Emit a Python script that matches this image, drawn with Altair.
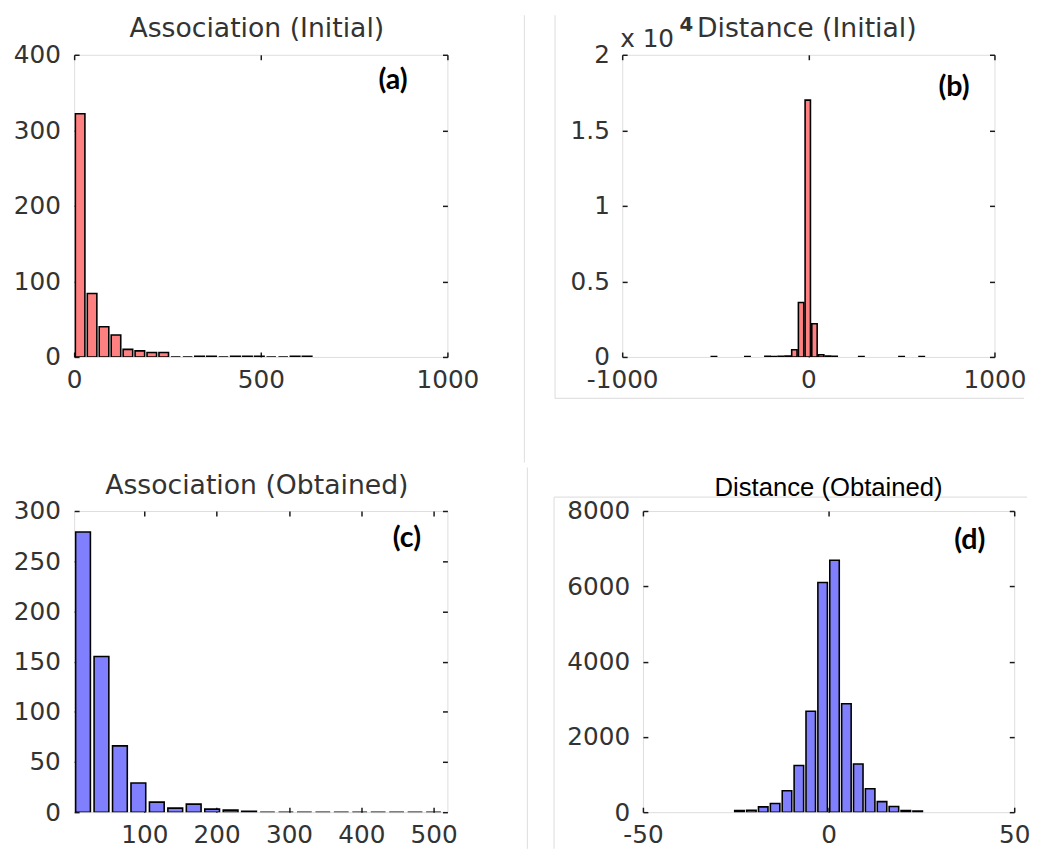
import altair as alt
import pandas as pd

# ---------------- data ----------------
# (a) Association (Initial): bin centres and counts
a_centers = [16, 48, 80, 112, 144, 176, 208, 240, 272, 304, 336, 368, 400, 432, 464, 496, 528, 560, 592, 624]
a_counts = [322, 84, 40, 29, 10, 8, 6, 6, 0, 0, 1, 1, 0, 1, 1, 1, 0, 0, 1, 1]
a_binw = 32

# (b) Distance (Initial)
b_centers = [-507, -327, -219, -183, -147, -111, -75, -39, -3, 33, 69, 105, 141, 285, 501, 609]
b_counts = [20, 20, 40, 30, 40, 60, 480, 3600, 17000, 2200, 150, 60, 40, 20, 20, 20]
b_binw = 36

# (c) Association (Obtained)
c_centers = [15.25, 40.75, 66.25, 91.75, 117.25, 142.75, 168.25, 193.75, 219.25, 244.75,
             270.25, 295.75, 321.25, 346.75, 372.25, 397.75, 423.25, 448.75, 474.25, 499.75]
c_counts = [279, 155, 66, 29, 10, 4, 8, 3, 2, 1, 0, 0, 0, 0, 0, 0, 0, 0, 0, 0]
c_binw = 25.5

# (d) Distance (Obtained)
d_centers = [-24.0, -20.8, -17.6, -14.4, -11.2, -8.0, -4.8, -1.6, 1.6, 4.8, 8.0, 11.2, 14.4, 17.6, 20.8, 24.0]
d_counts = [40, 50, 140, 230, 570, 1240, 2680, 6100, 6690, 2880, 1280, 620, 280, 150, 40, 30]
d_binw = 3.2

# axis ticks
a_xticks = [0, 500, 1000]
a_yticks = [0, 100, 200, 300, 400]
b_xticks = [-1000, 0, 1000]
b_yticks = [0, 5000, 10000, 15000, 20000]
c_xticks = [100, 200, 300, 400, 500]
c_yticks = [0, 50, 100, 150, 200, 250, 300]
d_xticks = [-50, 0, 50]
d_yticks = [0, 2000, 4000, 6000, 8000]

titles = ["Association (Initial)", "Distance (Initial)", "Association (Obtained)", "Distance (Obtained)"]
letters = ["(a)", "(b)", "(c)", "(d)"]

RED = "#ff8080"
BLUE = "#8080ff"
INK = "#1a1a1a"
LAB = "#333333"
FRAME = "#e2e2e2"
FONT = "DejaVu Sans"
PAD = {"left": 4, "top": 0, "right": 0, "bottom": 0}


def bins(centers, counts, binw):
    half = binw * 0.4
    return pd.DataFrame({
        "lo": [c - half for c in centers],
        "hi": [c + half for c in centers],
        "n": counts,
    })


def axis(orient, values, labels=True, pad=11, label_expr="'' + datum.value"):
    kw = dict(orient=orient, values=values, domain=False, grid=False, ticks=True,
              tickSize=5, offset=-5, tickColor=INK, tickWidth=1.5, title=None,
              labels=labels, minExtent=0)
    if labels:
        kw.update(labelFont=FONT, labelFontSize=25, labelColor=LAB,
                  labelPadding=pad, labelFlush=False, labelOverlap=False, labelExpr=label_expr)
    else:
        kw.update(labelPadding=0)
    return alt.Axis(**kw)


def txt(s, x, y, font, size, color, weight="normal", align="center", baseline="alphabetic"):
    return alt.Chart(pd.DataFrame({"t": [s]})).mark_text(
        font=font, fontSize=size, color=color, fontWeight=weight, align=align, baseline=baseline,
    ).encode(x=alt.value(x), y=alt.value(y), text="t:N")


def vline(x, y, y2):
    return alt.Chart(pd.DataFrame({"k": [0]})).mark_rule(color=FRAME, strokeWidth=1.2).encode(
        x=alt.value(x), y=alt.value(y), y2=alt.value(y2))


def hline(y, x, x2):
    return alt.Chart(pd.DataFrame({"k": [0]})).mark_rule(color=FRAME, strokeWidth=1.2).encode(
        y=alt.value(y), x=alt.value(x), x2=alt.value(x2))


def panel(df, fill, xdom, ydom, xticks, yticks, w, h, title, tfont, tsize, tcolor, ty, tx,
          letter, lx, ly, ypad, xpad=11, ylabel_expr="'' + datum.value", extras=()):
    xs = alt.Scale(domain=xdom, nice=False, zero=False)
    ys = alt.Scale(domain=ydom, nice=False, zero=False)
    base = alt.Chart(df)
    bars = base.mark_bar(fill=fill, stroke="black", strokeWidth=1.6, clip=True).encode(
        x=alt.X("lo:Q", scale=xs, axis=axis("bottom", xticks, pad=xpad)),
        x2="hi:Q",
        y=alt.Y("n:Q", scale=ys, axis=axis("left", yticks, pad=ypad, label_expr=ylabel_expr)),
        y2=alt.datum(0),
    )
    ghost = base.mark_bar(opacity=0, clip=True).encode(
        x=alt.X("lo:Q", scale=xs, axis=axis("top", xticks, labels=False)),
        x2="hi:Q",
        y=alt.Y("n:Q", scale=ys, axis=axis("right", yticks, labels=False)),
        y2=alt.datum(0),
    )
    ttl = txt(title, tx, ty, tfont, tsize, tcolor)
    lab = txt(letter, lx, ly, "Lato", 29, "black", weight="bold", baseline="middle")
    layers = list(extras) + [bars, ghost, ttl, lab]
    return alt.layer(*layers).resolve_axis(x="independent", y="independent").properties(
        width=w, height=h)


# exponent label of panel (b) and the faint frame lines of the composed figure
b_extras = (
    vline(-99, -40, 413), vline(-68, -40, 348), hline(348, -68, 407),
    txt("x 10", -2, -8, FONT, 25, LAB, align="left"),
    txt("4", 58, -24, FONT, 20, LAB, weight="bold", align="left"),
)
d_extras = (
    vline(-117, -44, 342), hline(-14, -90, 389), vline(-90, -14, 342),
)

pa = panel(bins(a_centers, a_counts, a_binw), RED, [0, 1000], [0, 400], a_xticks, a_yticks,
           378, 306, titles[0], FONT, 27, LAB, -18, 185, letters[0], 323, 26, ypad=14)
pb = panel(bins(b_centers, b_counts, b_binw), RED, [-1000, 1000], [0, 20000], b_xticks, b_yticks,
           377, 306, titles[1], FONT, 27, LAB, -18, 187, letters[1], 336, 33, ypad=13,
           ylabel_expr="'' + datum.value / 10000", extras=b_extras)
pc = panel(bins(c_centers, c_counts, c_binw), BLUE, [3, 519], [0, 300], c_xticks, c_yticks,
           378, 305, titles[2], FONT, 27, LAB, -17, 185, letters[2], 337, 27, ypad=14)
pd_ = panel(bins(d_centers, d_counts, d_binw), BLUE, [-50, 50], [0, 8000], d_xticks, d_yticks,
            376, 305, titles[3], "Liberation Sans", 26, "black", -15, 188, letters[3], 331, 29,
            ypad=13.5, extras=d_extras)

row1 = alt.HConcatChart(hconcat=[pa, pb], spacing=43)
row2 = alt.HConcatChart(hconcat=[pc, pd_], spacing=68)
chart = alt.VConcatChart(vconcat=[row1, row2], spacing=1, padding=PAD).configure_view(
    stroke=INK, strokeWidth=1.5
).configure(background="white", padding=PAD)

chart.save("out.html", embed_options={"renderer": "svg", "actions": False})
